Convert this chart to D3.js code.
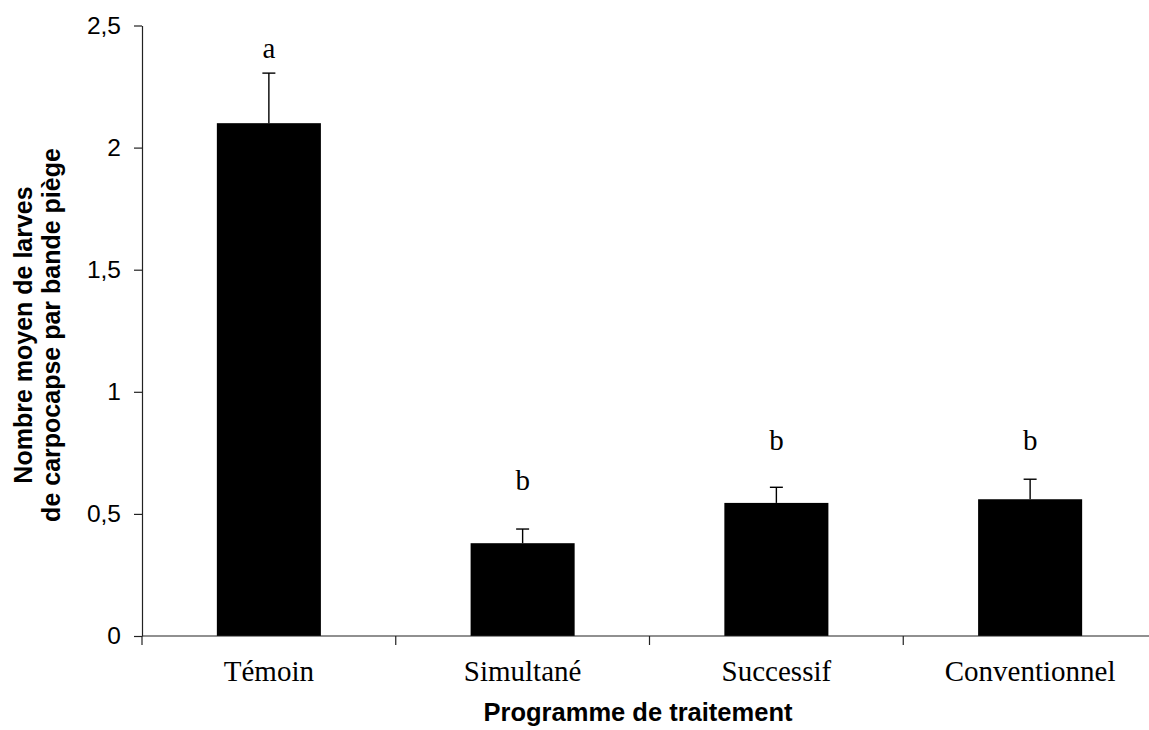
<!DOCTYPE html>
<html>
<head>
<meta charset="utf-8">
<script src="https://cdn.jsdelivr.net/npm/d3@7"></script>
<style>
  html, body { margin: 0; padding: 0; background: #fff; }
  svg { display: block; }
</style>
</head>
<body>
<script>
// ---- data ----
const categories = ["Témoin", "Simultané", "Successif", "Conventionnel"];
const meanValues = [2.10, 0.38, 0.545, 0.56];
const errorValues = [0.205, 0.058, 0.064, 0.082];
const groupLetters = ["a", "b", "b", "b"];
const letterLevels = [2.367, 0.598, 0.762, 0.76];
const yTickValues = [0, 0.5, 1, 1.5, 2, 2.5];
const yTickLabels = ["0", "0,5", "1", "1,5", "2", "2,5"];
const xTitle = "Programme de traitement";
const yTitleLines = ["Nombre moyen de larves", "de carpocapse par bande piège"];

const W = 1149, H = 730;
const svg = d3.select("body").append("svg").attr("width", W).attr("height", H);

const x = d3.scaleBand().domain(categories).range([142, 1157])
  .paddingInner(0.59).paddingOuter(0.295);
const y = d3.scaleLinear().domain([0, 2.5]).range([636, 25.5]);

const sans = "'Liberation Sans', Arial, sans-serif";
const serif = "'Liberation Serif', 'Times New Roman', serif";

// bars
svg.append("g").selectAll("rect").data(categories).join("rect")
  .attr("x", d => x(d))
  .attr("y", (d, i) => y(meanValues[i]))
  .attr("width", x.bandwidth())
  .attr("height", (d, i) => y(0) - y(meanValues[i]))
  .attr("fill", "#000");

// error bars (upper only)
const eb = svg.append("g").attr("stroke", "#000").attr("stroke-width", 1.4);
categories.forEach((c, i) => {
  const cx = x(c) + x.bandwidth() / 2;
  eb.append("line").attr("x1", cx).attr("x2", cx)
    .attr("y1", y(meanValues[i])).attr("y2", y(meanValues[i] + errorValues[i]));
  eb.append("line").attr("x1", cx - 6.5).attr("x2", cx + 6.5)
    .attr("y1", y(meanValues[i] + errorValues[i])).attr("y2", y(meanValues[i] + errorValues[i]));
});

// group letters
svg.append("g").selectAll("text").data(categories).join("text")
  .attr("x", d => x(d) + x.bandwidth() / 2)
  .attr("y", (d, i) => y(letterLevels[i]))
  .attr("text-anchor", "middle")
  .attr("font-family", serif).attr("font-size", 29)
  .text((d, i) => groupLetters[i]);

// y axis
const yAxis = d3.axisLeft(y).tickValues(yTickValues)
  .tickFormat((d, i) => yTickLabels[i]).tickSize(8).tickSizeOuter(0).tickPadding(13);
const gy = svg.append("g").attr("transform", "translate(142,0)").call(yAxis);
gy.select(".domain").attr("stroke", "#222").attr("stroke-width", 1.2);
gy.selectAll(".tick line").attr("stroke", "#222").attr("stroke-width", 1.2);
gy.selectAll(".tick text").attr("font-family", sans).attr("font-size", 24.5).attr("fill", "#000");

// x axis line
svg.append("line").attr("x1", 142).attr("x2", 1157)
  .attr("y1", y(0)).attr("y2", y(0)).attr("stroke", "#222").attr("stroke-width", 1.2);
// category boundary ticks
const bounds = d3.range(categories.length + 1).map(i => x.range()[0] + i * x.step());
svg.append("g").selectAll("line").data(bounds).join("line")
  .attr("x1", d => d).attr("x2", d => d)
  .attr("y1", y(0)).attr("y2", y(0) + 9)
  .attr("stroke", "#222").attr("stroke-width", 1.2);

// category labels
svg.append("g").selectAll("text").data(categories).join("text")
  .attr("x", d => x(d) + x.bandwidth() / 2)
  .attr("y", 681)
  .attr("text-anchor", "middle")
  .attr("font-family", serif).attr("font-size", 29)
  .text(d => d);

// axis titles
svg.append("text").attr("x", 638).attr("y", 721)
  .attr("text-anchor", "middle").attr("font-family", sans)
  .attr("font-weight", "bold").attr("font-size", 25.5).text(xTitle);

const yt = svg.append("text")
  .attr("transform", "translate(0,335) rotate(-90)")
  .attr("text-anchor", "middle").attr("font-family", sans)
  .attr("font-weight", "bold").attr("font-size", 25);
yt.append("tspan").attr("x", 0).attr("y", 32).text(yTitleLines[0]);
yt.append("tspan").attr("x", 0).attr("y", 60).text(yTitleLines[1]);
</script>
</body>
</html>
